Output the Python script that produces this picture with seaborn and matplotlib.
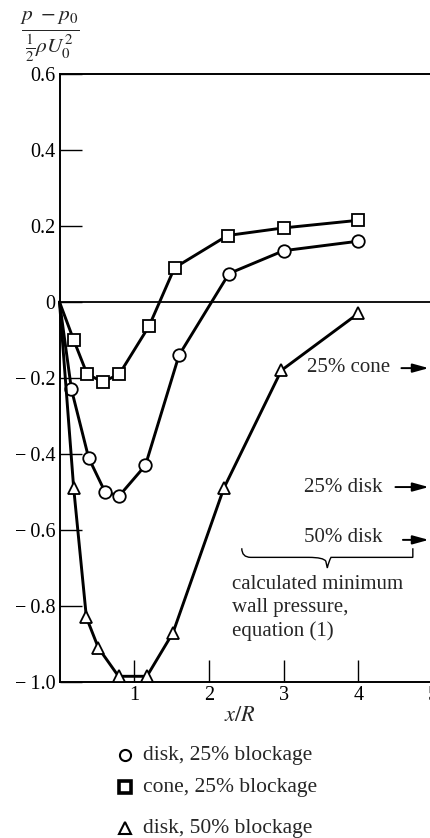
import numpy as np
import pandas as pd
import matplotlib
matplotlib.use("Agg")
import matplotlib.pyplot as plt
from matplotlib.lines import Line2D
from matplotlib.path import Path
from matplotlib.patches import PathPatch
import seaborn as sns

# ---- data ----
cone25_x = [0.0, 0.19, 0.37, 0.58, 0.80, 1.20, 1.54, 2.25, 3.0, 4.0]
cone25_y = [0.0, -0.10, -0.19, -0.21, -0.19, -0.063, 0.09, 0.175, 0.195, 0.215]

disk25_x = [0.0, 0.16, 0.39, 0.61, 0.80, 1.15, 1.60, 2.27, 3.0, 4.0]
disk25_y = [0.0, -0.23, -0.41, -0.50, -0.51, -0.43, -0.14, 0.075, 0.135, 0.16]

disk50_x = [0.0, 0.19, 0.36, 0.52, 0.79, 1.17, 1.52, 2.20, 2.97, 4.0]
disk50_y = [0.0, -0.49, -0.83, -0.91, -0.985, -0.985, -0.87, -0.49, -0.18, -0.03]

y_ticks = [0.6, 0.4, 0.2, 0.0, -0.2, -0.4, -0.6, -0.8, -1.0]
y_tick_labels = ["0.6", "0.4", "0.2", "0", "\u2212\u20090.2", "\u2212\u20090.4",
                 "\u2212\u20090.6", "\u2212\u20090.8", "\u2212\u20091.0"]
x_ticks = [1, 2, 3, 4, 5]
x_tick_labels = ["1", "2", "3", "4", "5"]

legend_labels = ["disk, 25% blockage", "cone, 25% blockage", "disk, 50% blockage"]

sns.set_theme(style="white")
plt.rcParams["font.family"] = ["Liberation Serif", "DejaVu Serif"]
plt.rcParams["mathtext.fontset"] = "stix"

fig = plt.figure(figsize=(4.30, 8.38), dpi=100)
ax = fig.add_axes([59.5 / 430, 1 - 682 / 838, 373.5 / 430, (682 - 74) / 838])

series = [
    (disk25_x, disk25_y, "o", 9.0),
    (cone25_x, cone25_y, "s", 8.0),
    (disk50_x, disk50_y, "^", 9.0),
]
for xs, ys, mk, ms in series:
    df = pd.DataFrame({"x": xs, "y": ys})
    sns.lineplot(data=df, x="x", y="y", ax=ax, sort=False, color="black",
                 linewidth=2.1, marker=mk, markersize=ms,
                 markevery=list(range(1, len(xs))),
                 markerfacecolor="white", markeredgecolor="black",
                 markeredgewidth=1.3, clip_on=False, zorder=3)

ax.axhline(0, color="black", linewidth=1.3, zorder=2)

ax.set_xlim(0, 5)
ax.set_ylim(-1.0, 0.6)
ax.set_yticks(y_ticks)
ax.set_yticklabels(y_tick_labels)
ax.set_xticks(x_ticks)
ax.set_xticklabels(x_tick_labels)
ax.tick_params(axis="both", which="major", direction="in", length=16, width=1.0,
               colors="black", labelsize=14.5, bottom=True, left=True,
               top=False, right=False)
ax.tick_params(axis="y", pad=3)
ax.tick_params(axis="x", pad=3)
ax.set_xlabel("")
ax.set_ylabel("")
for side in ["left", "top", "bottom"]:
    ax.spines[side].set_visible(True)
    ax.spines[side].set_color("black")
    ax.spines[side].set_linewidth(1.4)
ax.spines["right"].set_visible(False)
ax.grid(False)

# annotations
fs = 15
ax.text(4.42, -0.172, "25% cone", ha="right", va="center", fontsize=fs)
ax.text(4.32, -0.487, "25% disk", ha="right", va="center", fontsize=fs)
ax.text(4.32, -0.62, "50% disk", ha="right", va="center", fontsize=fs)
arrow_kw = dict(arrowstyle="-|>,head_length=0.8,head_width=0.22", color="black", lw=1.4)
for y0, x0 in [(-0.174, 4.54), (-0.487, 4.46), (-0.626, 4.56)]:
    ax.annotate("", xy=(4.98, y0), xytext=(x0, y0), arrowprops=arrow_kw,
                annotation_clip=False)

# curly brace
xl, xr, ytop, ymid, ytip = 2.44, 4.73, -0.648, -0.672, -0.700
xm = (xl + xr) / 2
verts = [(xl, ytop), (xl, ymid), (xl + 0.12, ymid), (xl + 0.25, ymid),
         (xm - 0.25, ymid), (xm - 0.05, ymid), (xm - 0.02, ymid - 0.01), (xm, ytip),
         (xm + 0.02, ymid - 0.01), (xm + 0.05, ymid), (xm + 0.25, ymid),
         (xr - 0.25, ymid), (xr - 0.12, ymid), (xr, ymid), (xr, ytop)]
codes = [Path.MOVETO, Path.CURVE3, Path.CURVE3, Path.LINETO,
         Path.LINETO, Path.CURVE3, Path.CURVE3, Path.LINETO,
         Path.CURVE3, Path.CURVE3, Path.LINETO,
         Path.LINETO, Path.CURVE3, Path.CURVE3, Path.LINETO]
ax.add_patch(PathPatch(Path(verts, codes), fill=False, lw=1.0, color="black"))
ax.text(2.31, -0.806, "calculated minimum\nwall pressure,\nequation (1)",
        ha="left", va="center", fontsize=fs, linespacing=1.3)

# axis labels
fig.text(240 / 430, 1 - 716 / 838, r"$x/R$", ha="center", va="center", fontsize=16)
fig.text(50 / 430, 1 - 36 / 838, r"$\frac{p\ -p_0}{\frac{1}{2}\rho U_0^2}$",
         ha="center", va="center", fontsize=22)

# legend
leg_y = [755, 787, 828]
leg_m = ["o", "s", "^"]
leg_mew = [1.5, 2.6, 1.5]
for yy, mk, lab, mew in zip(leg_y, leg_m, legend_labels, leg_mew):
    fig.add_artist(Line2D([125 / 430], [1 - yy / 838], transform=fig.transFigure,
                          marker=mk, markersize=8, markerfacecolor="white",
                          markeredgecolor="black", markeredgewidth=mew, linestyle="none"))
    fig.text(143 / 430, 1 - yy / 838, lab, ha="left", va="center", fontsize=15.5)

fig.savefig("out.png", dpi=100)
